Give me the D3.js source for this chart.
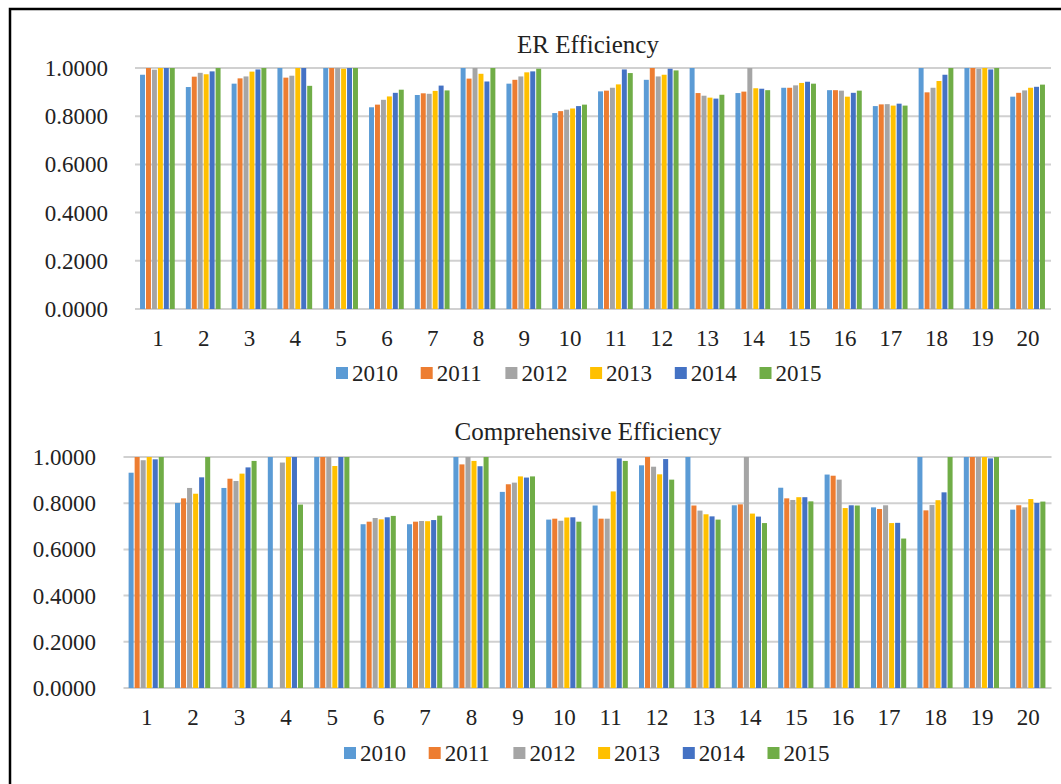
<!DOCTYPE html>
<head>
	<meta charset="utf-8">
	<script src="https://d3js.org/d3.v7.min.js"></script>
	<style>
		body { margin: 0; background: #fff; }
		svg text { font-family: "Liberation Serif", "DejaVu Serif", "Times New Roman", Times, serif; fill: #222; }
	</style>
</head>
<body>
	<svg id="fig" width="1061" height="784" font-family="Liberation Serif, DejaVu Serif, serif"></svg>
	<script>

	// Data
	var regions = ["1","2","3","4","5","6","7","8","9","10","11","12","13","14","15","16","17","18","19","20"];
	var years = ["2010","2011","2012","2013","2014","2015"];
	var colors = ["#5b9bd5","#ed7d31","#a5a5a5","#ffc000","#4472c4","#70ad47"];
	var yTicks = [0, 0.2, 0.4, 0.6, 0.8, 1.0];

	var er2010 = [0.972, 0.921, 0.935, 1.0, 1.0, 0.837, 0.888, 1.0, 0.935, 0.813, 0.903, 0.951, 1.0, 0.896, 0.918, 0.908, 0.842, 1.0, 1.0, 0.881];
	var er2011 = [1.0, 0.964, 0.957, 0.960, 1.0, 0.848, 0.895, 0.956, 0.951, 0.821, 0.906, 1.0, 0.896, 0.902, 0.918, 0.908, 0.849, 0.899, 1.0, 0.897];
	var er2012 = [0.993, 0.980, 0.965, 0.968, 1.0, 0.868, 0.893, 1.0, 0.965, 0.827, 0.918, 0.965, 0.885, 1.0, 0.928, 0.906, 0.850, 0.918, 0.997, 0.907];
	var er2013 = [1.0, 0.974, 0.985, 1.0, 0.997, 0.882, 0.905, 0.976, 0.982, 0.832, 0.932, 0.972, 0.877, 0.916, 0.938, 0.881, 0.844, 0.946, 1.0, 0.918];
	var er2014 = [1.0, 0.986, 0.994, 1.0, 1.0, 0.897, 0.927, 0.944, 0.986, 0.842, 0.994, 0.997, 0.873, 0.914, 0.943, 0.897, 0.852, 0.972, 0.994, 0.922];
	var er2015 = [1.0, 1.0, 1.0, 0.926, 1.0, 0.910, 0.907, 1.0, 0.997, 0.848, 0.979, 0.990, 0.889, 0.908, 0.935, 0.906, 0.844, 1.0, 1.0, 0.931];

	var ce2010 = [0.932, 0.801, 0.866, 1.0, 1.0, 0.709, 0.709, 1.0, 0.849, 0.729, 0.790, 0.964, 1.0, 0.791, 0.867, 0.924, 0.782, 1.0, 1.0, 0.772];
	var ce2011 = [1.0, 0.821, 0.906, 0, 1.0, 0.720, 0.720, 0.968, 0.882, 0.733, 0.733, 1.0, 0.790, 0.795, 0.821, 0.919, 0.775, 0.769, 1.0, 0.791];
	var ce2012 = [0.986, 0.866, 0.896, 0.976, 1.0, 0.736, 0.723, 1.0, 0.889, 0.724, 0.733, 0.958, 0.768, 1.0, 0.814, 0.902, 0.791, 0.792, 1.0, 0.782];
	var ce2013 = [1.0, 0.841, 0.928, 1.0, 0.961, 0.730, 0.722, 0.983, 0.916, 0.738, 0.851, 0.925, 0.752, 0.755, 0.826, 0.779, 0.714, 0.813, 1.0, 0.818];
	var ce2014 = [0.990, 0.912, 0.955, 1.0, 1.0, 0.739, 0.727, 0.960, 0.911, 0.739, 0.994, 0.991, 0.743, 0.742, 0.826, 0.791, 0.715, 0.847, 0.994, 0.801];
	var ce2015 = [1.0, 1.0, 0.983, 0.794, 1.0, 0.745, 0.746, 1.0, 0.916, 0.720, 0.983, 0.902, 0.729, 0.714, 0.808, 0.790, 0.647, 1.0, 1.0, 0.807];

	var svg = d3.select("#fig");
	var serif = "'Liberation Serif', 'DejaVu Serif', serif";

	// outer frame (right and bottom edges fall outside the picture)
	svg.append("rect")
		.attr("x", 10).attr("y", 9)
		.attr("width", 1080).attr("height", 800)
		.attr("fill", "none")
		.attr("stroke", "#000")
		.attr("stroke-width", 2.5);

	var drawChart = function(opt) {
		var series = opt.series;
		var g = svg.append("g");

		var x0 = d3.scaleBand().domain(regions).range([opt.left, opt.right]);
		var x1 = d3.scaleBand().domain(years)
			.range([x0.bandwidth() * 0.11, x0.bandwidth() * 0.89]);
		var y = d3.scaleLinear().domain([0, 1]).range([opt.bottom, opt.top]);

		// gridlines
		g.selectAll(".grid")
			.data(yTicks)
			.enter()
			.append("line")
			.attr("x1", opt.left).attr("x2", opt.right)
			.attr("y1", function(d) { return y(d); })
			.attr("y2", function(d) { return y(d); })
			.attr("stroke", "#d0d0d0")
			.attr("stroke-width", 2);

		// y labels
		g.selectAll(".ylab")
			.data(yTicks)
			.enter()
			.append("text")
			.attr("x", opt.labelX)
			.attr("y", function(d) { return y(d); })
			.attr("dy", "0.35em")
			.attr("text-anchor", "end")
			.style("font-family", serif)
			.style("font-size", "23px")
			.text(function(d) { return d3.format(".4f")(d); });

		// bars
		var groups = g.selectAll(".grp")
			.data(regions)
			.enter()
			.append("g")
			.attr("transform", function(d) { return "translate(" + x0(d) + ",0)"; });

		groups.selectAll("rect")
			.data(function(d, i) {
				return years.map(function(yr, k) { return {year: yr, k: k, v: series[k][i]}; });
			})
			.enter()
			.append("rect")
			.attr("x", function(d) { return x1(d.year); })
			.attr("width", x1.bandwidth() - 1)
			.attr("y", function(d) { return y(d.v); })
			.attr("height", function(d) { return y(0) - y(d.v); })
			.attr("fill", function(d) { return colors[d.k]; });

		// x labels
		g.selectAll(".xlab")
			.data(regions)
			.enter()
			.append("text")
			.attr("x", function(d) { return x0(d) + x0.bandwidth() / 2; })
			.attr("y", opt.bottom + 29)
			.attr("dy", "0.35em")
			.attr("text-anchor", "middle")
			.style("font-family", serif)
			.style("font-size", "23px")
			.text(function(d) { return d; });

		// title
		g.append("text")
			.attr("x", opt.titleX)
			.attr("y", opt.titleY)
			.attr("dy", "0.35em")
			.attr("text-anchor", "middle")
			.style("font-family", serif)
			.style("font-size", "25px")
			.text(opt.title);

		// legend
		var leg = g.selectAll(".leg")
			.data(years)
			.enter()
			.append("g")
			.attr("transform", function(d, i) { return "translate(" + (opt.legendX + i * 84.7) + "," + opt.legendY + ")"; });
		leg.append("rect")
			.attr("x", 0).attr("y", -6)
			.attr("width", 12).attr("height", 12)
			.attr("fill", function(d, i) { return colors[i]; });
		leg.append("text")
			.attr("x", 16)
			.attr("y", 0)
			.attr("dy", "0.35em")
			.style("font-family", serif)
			.style("font-size", "23px")
			.text(function(d) { return d; });
	};

	drawChart({
		series: [er2010, er2011, er2012, er2013, er2014, er2015],
		left: 135, right: 1051, top: 68, bottom: 309,
		labelX: 108, title: "ER Efficiency", titleX: 588, titleY: 44,
		legendX: 336, legendY: 373
	});

	drawChart({
		series: [ce2010, ce2011, ce2012, ce2013, ce2014, ce2015],
		left: 123.5, right: 1051.5, top: 457, bottom: 688,
		labelX: 96, title: "Comprehensive Efficiency", titleX: 588, titleY: 431,
		legendX: 344, legendY: 753
	});

</script>
</body>
</html>
